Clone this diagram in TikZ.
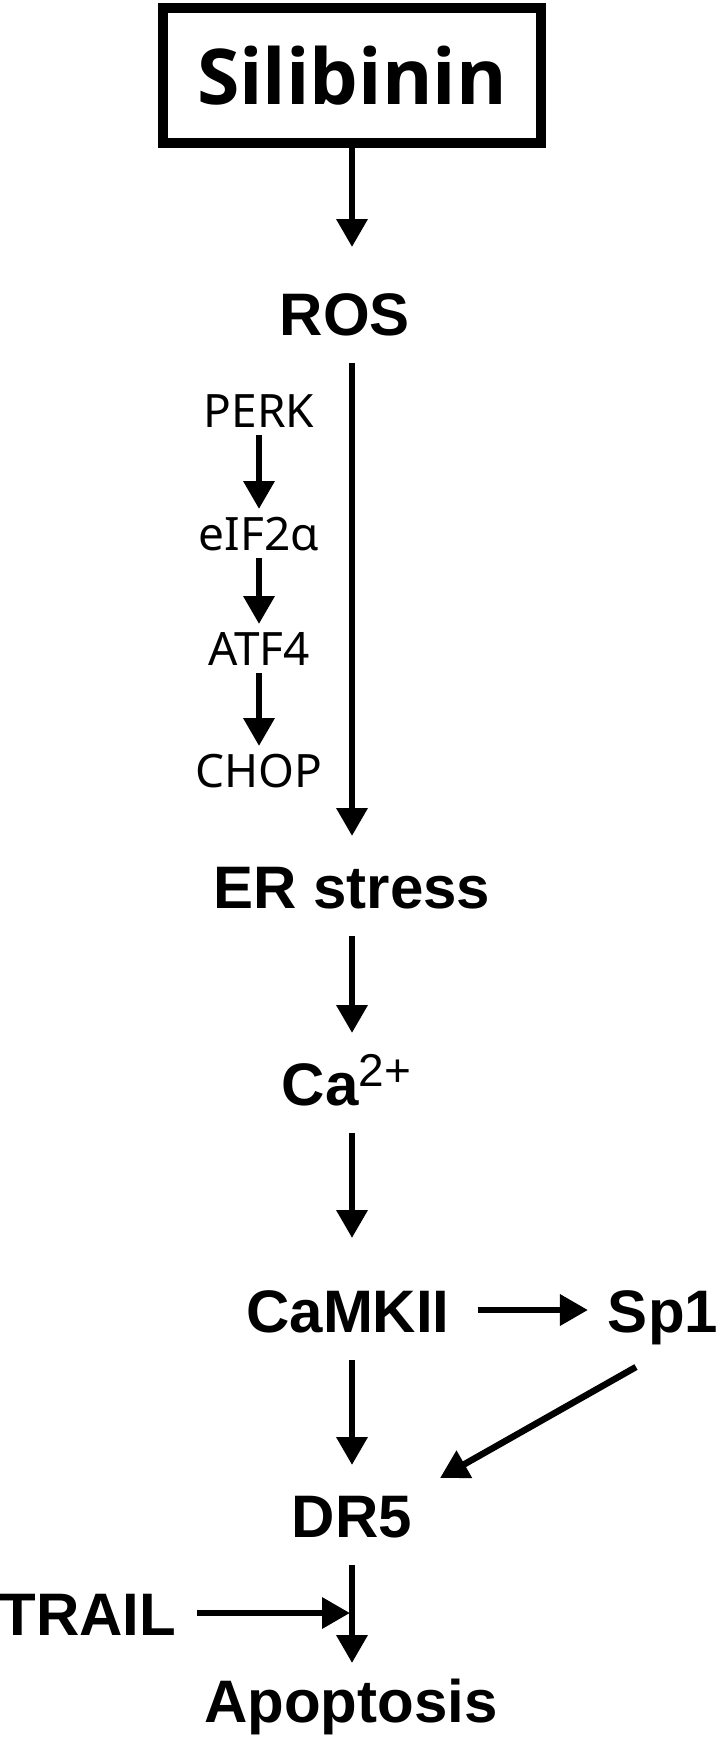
\documentclass[tikz,border=0pt]{standalone}
\usepackage{fontspec}
\usetikzlibrary{arrows.meta}
\newfontfamily\arialfont{Liberation Sans}
\newfontfamily\notofont{Noto Sans}
\newfontfamily\openfont{Open Sans}
\begin{document}
\begin{tikzpicture}[x=1pt,y=1pt,
  lbl/.style={inner sep=0pt,outer sep=28pt,text height=44pt,text depth=0pt,
    font=\arialfont\bfseries\fontsize{60}{60}\selectfont},
  sml/.style={inner sep=0pt,outer sep=8pt,text height=33pt,text depth=0pt,
    font=\notofont\fontsize{46}{46}\selectfont},
  arr/.style={line width=6.5pt,-{Triangle[width=30pt,length=28pt]}}]
\useasboundingbox (0,0) rectangle (720,-1738);

\node[draw,line width=10pt,minimum width=378pt,minimum height=135pt,inner sep=0pt,
  font=\openfont\bfseries\fontsize{77}{77}\selectfont] (sil) at (352,-75.5) {Silibinin};

\node[lbl,anchor=base] (ros) at (345,-335) {ROS};
\node[lbl,anchor=base] (er) at (352,-908) {ER stress};
\node[lbl,anchor=base] (ca) at (346.5,-1105)
  {Ca\raisebox{19pt}{\fontsize{46}{46}\selectfont\mdseries 2+}};
\node[lbl,anchor=base] (camk) at (348,-1332) {CaMKII};
\node[lbl,anchor=base] (sp1) at (663,-1332) {Sp1};
\node[lbl,anchor=base] (dr5) at (352,-1537) {DR5};
\node[lbl,anchor=base] (trail) at (88,-1635) {TRAIL};
\node[lbl,anchor=base] (apo) at (351,-1722) {Apoptosis};

\node[sml,anchor=base] (perk) at (259,-427) {PERK};
\node[sml,anchor=base] (eif) at (259,-550) {eIF2α};
\node[sml,anchor=base] (atf) at (259,-665) {ATF4};
\node[sml,anchor=base] (chop) at (259,-787) {CHOP};

\coordinate (join) at (350,-1613);

\draw[arr] (sil.south) -- ([yshift=16pt]ros.north -| sil.south);
\draw[arr] (ros.south -| er.north) -- (er.north);
\draw[arr] (er.south) -- (er.south |- ca.north);
\draw[arr] (er.south |- ca.south) -- ([yshift=22pt]er.south |- camk.north);
\draw[arr] (er.south |- camk.south) -- (dr5.north);
\draw[arr] (dr5.south) -- ([yshift=-13pt]apo.north -| dr5.south);
\draw[arr] (camk.east) -- ([xshift=8pt]sp1.west);
\draw[arr] ([xshift=56pt,yshift=-7pt]sp1.south west) -- ([yshift=-13pt]dr5.north east);
\draw[arr] ([xshift=-7pt]trail.east) -- (join);

\draw[arr] (perk) -- (eif);
\draw[arr] (eif) -- (atf);
\draw[arr] (atf) -- (chop);
\end{tikzpicture}
\end{document}
